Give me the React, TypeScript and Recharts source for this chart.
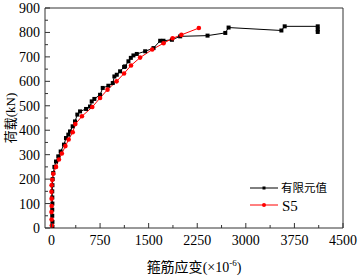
import React from "react";
import { LineChart, Line, XAxis, YAxis, ReferenceLine } from "recharts";

const femStrain = [15, 15, 12, 12, 14, 13, 12, 15, 18, 28, 45, 70, 105, 142, 193, 224, 260, 286, 327, 363, 399, 441, 534, 595, 621, 662, 750, 791, 878, 946, 971, 1008, 1059, 1121, 1136, 1188, 1225, 1265, 1317, 1446, 1575, 1678, 1729, 1859, 1987, 2409, 2683, 2734, 3549, 3600, 4110, 4110, 4110];
const femLoad = [5, 25, 50, 75, 100, 125, 150, 175, 200, 225, 250, 272, 293, 313, 341, 368, 382, 395, 416, 436, 464, 477, 487, 497, 518, 528, 545, 573, 582, 593, 620, 627, 641, 659, 661, 682, 696, 706, 712, 723, 736, 766, 766, 770, 784, 787, 798, 820, 808, 825, 825, 812, 802];

const s5Strain = [5, 2, 0, 3, 2, 0, 2, 12, 28, 70, 115, 160, 215, 265, 328, 368, 470, 630, 750, 865, 1005, 1120, 1228, 1368, 1555, 1730, 1870, 2005, 2275];
const s5Load = [10, 35, 65, 90, 120, 148, 175, 197, 222, 250, 280, 305, 335, 362, 392, 425, 457, 495, 532, 566, 600, 632, 665, 697, 730, 756, 776, 790, 818];

const xTicks = [0, 375, 750, 1125, 1500, 1875, 2250, 2625, 3000, 3375, 3750, 4125, 4500];
const yTicks = [0, 50, 100, 150, 200, 250, 300, 350, 400, 450, 500, 550, 600, 650, 700, 750, 800, 850, 900];

const femData = femStrain.map((s, i) => ({ strain: s, load: femLoad[i] }));
const s5Data = s5Strain.map((s, i) => ({ strain: s, load: s5Load[i] }));

const AXIS = "#333";
const SERIF = "'Liberation Serif', 'Times New Roman', serif";
const CJK = "'Noto Sans CJK SC', sans-serif";

const XTick = (props: any) => {
  const { x, y, payload } = props;
  const major = payload.value % 750 === 0;
  return (
    <g>
      <line x1={x} x2={x} y1={y} y2={y - (major ? 5 : 3)} stroke={AXIS} strokeWidth={1} />
      {major && (
        <text x={x} y={y + 17} textAnchor="middle" style={{ fontFamily: SERIF, fontSize: 14 }} fill="#000">
          {payload.value}
        </text>
      )}
    </g>
  );
};

const YTick = (props: any) => {
  const { x, y, payload } = props;
  const major = payload.value % 100 === 0;
  return (
    <g>
      <line x1={x} x2={x + (major ? 5 : 3)} y1={y} y2={y} stroke={AXIS} strokeWidth={1} />
      {major && (
        <text x={x - 5} y={y + 5} textAnchor="end" style={{ fontFamily: SERIF, fontSize: 14 }} fill="#000">
          {payload.value}
        </text>
      )}
    </g>
  );
};

const XLabel = (props: any) => {
  const vb = props.viewBox || { x: 45, y: 228, width: 298, height: 47 };
  const cx = vb.x + vb.width / 2;
  return (
    <text x={cx} y={vb.y + 44} textAnchor="middle" fill="#000">
      <tspan style={{ fontFamily: CJK, fontSize: 14 }}>箍筋应变</tspan>
      <tspan style={{ fontFamily: SERIF, fontSize: 14 }}>(×10</tspan>
      <tspan style={{ fontFamily: SERIF, fontSize: 9 }} dy={-6}>-6</tspan>
      <tspan style={{ fontFamily: SERIF, fontSize: 14 }} dy={6}>)</tspan>
    </text>
  );
};

const YLabel = (props: any) => {
  const vb = props.viewBox || { x: 0, y: 8, width: 45, height: 220 };
  const cy = vb.y + vb.height / 2;
  const bx = 15;
  return (
    <text x={bx} y={cy} textAnchor="middle" transform={`rotate(-90, ${bx}, ${cy})`} fill="#000">
      <tspan style={{ fontFamily: CJK, fontSize: 13 }}>荷载</tspan>
      <tspan style={{ fontFamily: SERIF, fontSize: 13 }}>(kN)</tspan>
    </text>
  );
};

const SquareDot = (props: any) => {
  const { cx, cy } = props;
  if (cx == null || cy == null) return null;
  return <rect x={cx - 2} y={cy - 2} width={4} height={4} fill="#000" />;
};

const CircleDot = (props: any) => {
  const { cx, cy } = props;
  if (cx == null || cy == null) return null;
  return <circle cx={cx} cy={cy} r={2.3} fill="#ff0000" />;
};

export default function App() {
  return (
    <div style={{ position: "relative", width: 359, height: 275, background: "#fff" }}>
      <style>{`body{margin:0}`}</style>
      <LineChart width={359} height={275} margin={{ top: 8, right: 16, left: 0, bottom: 0 }}>
        <XAxis
          type="number"
          dataKey="strain"
          domain={[-100, 4500]}
          ticks={xTicks}
          allowDataOverflow
          height={47}
          tickLine={false}
          tickSize={0}
          tickMargin={0}
          tick={<XTick />}
          stroke={AXIS}
          interval={0}
          label={<XLabel />}
        />
        <YAxis
          type="number"
          dataKey="load"
          domain={[0, 900]}
          ticks={yTicks}
          allowDataOverflow
          width={45}
          tickLine={false}
          tickSize={0}
          tickMargin={0}
          tick={<YTick />}
          stroke={AXIS}
          interval={0}
          label={<YLabel />}
        />
        <ReferenceLine y={900} stroke={AXIS} strokeWidth={1} />
        <ReferenceLine x={4500} stroke={AXIS} strokeWidth={1} />
        <Line
          data={femData}
          dataKey="load"
          stroke="#000"
          strokeWidth={1}
          dot={<SquareDot />}
          activeDot={false}
          isAnimationActive={false}
          type="linear"
        />
        <Line
          data={s5Data}
          dataKey="load"
          stroke="#ff0000"
          strokeWidth={1}
          dot={<CircleDot />}
          activeDot={false}
          isAnimationActive={false}
          type="linear"
        />
      </LineChart>
      <svg width={100} height={36} style={{ position: "absolute", left: 250, top: 180, overflow: "visible" }}>
        <line x1={0} x2={28} y1={8} y2={8} stroke="#000" strokeWidth={1} />
        <rect x={12.5} y={6.5} width={3} height={3} fill="#000" />
        <text x={31} y={12} style={{ fontFamily: CJK, fontSize: 11.5 }} fill="#000">有限元值</text>
        <line x1={0} x2={28} y1={25} y2={25} stroke="#ff0000" strokeWidth={1} />
        <circle cx={14} cy={25} r={2} fill="#ff0000" />
        <text x={32} y={30.5} style={{ fontFamily: SERIF, fontSize: 15 }} fill="#000">S5</text>
      </svg>
    </div>
  );
}
